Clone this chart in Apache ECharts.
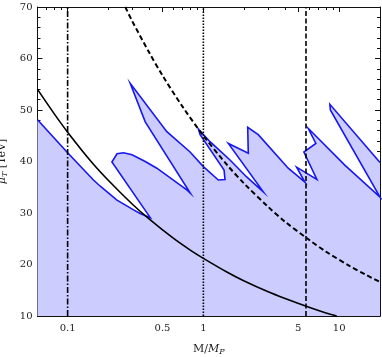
<!DOCTYPE html>
<html><head><meta charset="utf-8">
<script src="https://cdn.jsdelivr.net/npm/echarts@6/dist/echarts.min.js"></script>
<style>html,body{margin:0;padding:0;background:#fff}#c{width:382px;height:357px}</style>
</head><body><div id="c"></div>
<script>
const xMin = 0.06, xMax = 20;
const yMin = 10, yMax = 70;
const xTickValues = [0.1, 0.5, 1, 5, 10];
const xTickLabels = ['0.1', '0.5', '1', '5', '10'];
const xMinorTickValues = [0.07, 0.08, 0.09, 0.2, 0.3, 0.4, 0.6, 0.7, 0.8, 0.9, 2, 3, 4, 6, 7, 8, 9];

// jagged boundary of the allowed (shaded) region, in reading order
const regionX = [0.06, 0.1, 0.155, 0.174, 0.231, 0.306, 0.342, 0.406,
  0.212, 0.231, 0.258, 0.298, 0.373, 0.454, 0.755, 0.798,
  0.373, 0.289, 0.538, 0.798, 1.0, 1.289, 1.444, 1.42, 0.946, 0.919,
  1.12, 1.571, 2.085, 2.762, 1.527, 2.142, 2.121, 2.537, 4.217, 5.595,
  4.862, 6.855, 5.5, 6.74, 5.917, 11.01, 20, 8.617, 8.545, 20];
const regionY = [48.1, 41.7, 36.4, 35.2, 32.5, 30.6, 29.9, 29.1,
  39.9, 41.5, 41.7, 41.3, 40.0, 38.7, 34.5, 33.9,
  47.7, 55.2, 45.8, 41.85, 39.0, 36.4, 36.5, 38.35, 45.2, 46.3,
  43.85, 40.3, 37.0, 34.1, 43.5, 41.6, 46.65, 45.2, 38.7, 36.0,
  38.9, 36.5, 41.85, 43.5, 46.45, 39.3, 33.1, 50.0, 51.1, 39.8];

// solid black curve
const solidX = [0.06, 0.08, 0.1, 0.15, 0.2, 0.3, 0.4, 0.6, 0.8, 1, 1.5, 2, 3, 4, 6, 8, 9.6];
const solidY = [54.0, 49.2, 45.7, 39.9, 36.3, 31.7, 28.8, 25.1, 22.8, 21.2, 18.5, 16.8, 14.7, 13.4, 11.7, 10.6, 10.0];

// dashed black curve
const dashedX = [0.266, 0.3, 0.4, 0.5, 0.7, 1, 1.5, 2, 3, 4, 6, 8, 12, 16, 20];
const dashedY = [70, 67.2, 61.1, 56.7, 50.7, 45.0, 39.3, 35.7, 31.2, 28.3, 24.8, 22.5, 19.7, 17.9, 16.6];

// vertical reference lines
const vLineX = [0.1, 1, 5.7];

const font = 'DejaVu Serif';
const frameColor = '#111';

function pairs(xs, ys) { return xs.map((x, i) => [x, ys[i]]); }

function xAxisDef(pos, major, showLabel) {
  return {
    type: 'log', logBase: 10, min: xMin, max: xMax, position: pos,
    axisLine: { show: true, onZero: false, lineStyle: { color: frameColor, width: 1 } },
    axisTick: { show: true, inside: true, length: major ? 5 : 3,
      customValues: major ? xTickValues : xMinorTickValues,
      lineStyle: { color: frameColor, width: 1 } },
    axisLabel: { show: showLabel, customValues: xTickValues, margin: 7,
      fontFamily: font, fontSize: 10, color: '#222',
      formatter: function (v) {
        let best = 0;
        for (let i = 0; i < xTickValues.length; i++) {
          if (Math.abs(Math.log10(xTickValues[i]) - Math.log10(v)) < Math.abs(Math.log10(xTickValues[best]) - Math.log10(v))) best = i;
        }
        return xTickLabels[best];
      } },
    splitLine: { show: false },
    minorTick: { show: false }, minorSplitLine: { show: false }
  };
}
function yAxisDef(pos, showLabel) {
  return {
    type: 'value', min: yMin, max: yMax, interval: 10, position: pos,
    axisLine: { show: true, onZero: false, lineStyle: { color: frameColor, width: 1 } },
    axisTick: { show: true, inside: true, length: 5, lineStyle: { color: frameColor } },
    minorTick: { show: true, splitNumber: 5, length: 3, lineStyle: { color: frameColor } },
    axisLabel: { show: showLabel, margin: 5, fontFamily: font, fontSize: 10, color: '#222' },
    splitLine: { show: false }
  };
}

const xAxes = [xAxisDef('bottom', true, true), xAxisDef('bottom', false, false),
  xAxisDef('top', true, false), xAxisDef('top', false, false)];
xAxes[0].name = '{a|M/}{b|M}{c|P}';
xAxes[0].nameLocation = 'middle';
xAxes[0].nameGap = 27;
xAxes[0].nameTextStyle = { fontFamily: font, fontSize: 11, color: '#222',
  rich: { a: { fontFamily: font, fontSize: 11, color: '#222' },
          b: { fontFamily: font, fontSize: 11, fontStyle: 'italic', color: '#222' },
          c: { fontFamily: font, fontSize: 8, fontStyle: 'italic', color: '#222', padding: [5, 0, 0, 0] } } };

const yAxes = [yAxisDef('left', true), yAxisDef('right', false)];
yAxes[0].name = '{m|μ}{t|T}{r| [TeV]}';
yAxes[0].nameLocation = 'middle';
yAxes[0].nameGap = 23;
yAxes[0].nameTextStyle = { fontFamily: font, fontSize: 11, color: '#222',
  rich: { m: { fontFamily: font, fontSize: 11, fontStyle: 'italic', color: '#222' },
          t: { fontFamily: font, fontSize: 8, fontStyle: 'italic', color: '#222', padding: [5, 0, 0, 0] },
          r: { fontFamily: font, fontSize: 11, color: '#222' } } };

const vStyles = [
  { type: [6, 2, 1.5, 2], width: 1.6 },
  { type: [1.5, 1.5], width: 1.6 },
  { type: [5, 2.5], width: 1.6 }
];

const series = [
  {
    type: 'custom', coordinateSystem: 'cartesian2d', xAxisIndex: 0, yAxisIndex: 0,
    data: [[xMin, yMin]], silent: true, z: 1,
    renderItem: function (params, api) {
      const pts = regionX.map((x, i) => api.coord([x, regionY[i]]));
      const poly = pts.concat([api.coord([xMax, yMin]), api.coord([xMin, yMin])]);
      return { type: 'group', children: [
        { type: 'polygon', shape: { points: poly }, style: { fill: '#ccccff', stroke: null } },
        { type: 'polyline', shape: { points: pts }, style: { fill: null, stroke: '#1717f0', lineWidth: 1.6, lineJoin: 'miter' } }
      ] };
    }
  },
  {
    type: 'line', xAxisIndex: 0, yAxisIndex: 0, data: pairs(solidX, solidY), smooth: 0.3,
    showSymbol: false, symbol: 'none', z: 3,
    lineStyle: { color: '#000', width: 1.6 }
  },
  {
    type: 'line', xAxisIndex: 0, yAxisIndex: 0, data: pairs(dashedX, dashedY), smooth: 0.3,
    showSymbol: false, symbol: 'none', z: 3,
    lineStyle: { color: '#000', width: 2, type: [5, 3] }
  }
].concat(vLineX.map((x, i) => ({
  type: 'line', xAxisIndex: 0, yAxisIndex: 0, data: [[x, yMin], [x, yMax]],
  showSymbol: false, symbol: 'none', z: 3,
  lineStyle: Object.assign({ color: '#000' }, vStyles[i])
})));

const chart = echarts.init(document.getElementById('c'), null, { renderer: 'canvas' });
chart.setOption({
  animation: false,
  backgroundColor: '#fff',
  grid: { left: 37.5, right: 2, top: 7, bottom: 41, containLabel: false, outerBoundsMode: 'none' },
  xAxis: xAxes,
  yAxis: yAxes,
  series: series
});
</script>
</body></html>
